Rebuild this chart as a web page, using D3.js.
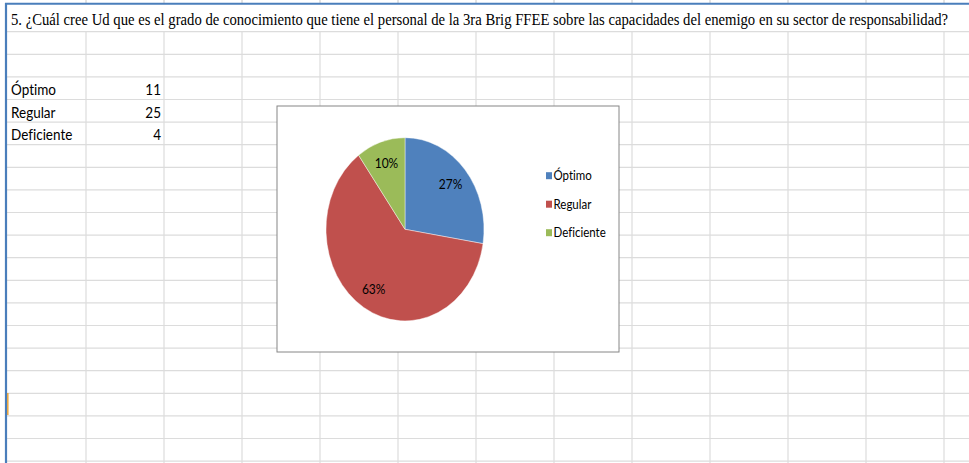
<!DOCTYPE html>
<html lang="es">
<head>
<meta charset="UTF-8">
<title>Grado de conocimiento</title>
<script src="https://cdnjs.cloudflare.com/ajax/libs/d3/7.8.5/d3.min.js"></script>
<style>
    body { margin: 0; background: #fff; }
    svg { display: block; }
    text { font-variant-ligatures: none; font-feature-settings: "liga" 0; }
</style>
</head>
<body>
<div id="onlydiv"></div>
<script>
    // Data
    var title = "5. ¿Cuál cree Ud que es el grado de conocimiento que tiene el personal de la 3ra Brig FFEE sobre las capacidades del enemigo en su sector de responsabilidad?";
    var categories = ["Óptimo", "Regular", "Deficiente"];
    var values = [11, 25, 4];
    var pctLabels = ["27%", "63%", "10%"];
    var colors = ["#4F81BD", "#C0504D", "#9BBB59"];

    // Size
    var w = 969, h = 463;
    var ky = 1.16; // the sheet screenshot is stretched vertically

    var svg = d3.select("#onlydiv").append("svg")
        .attr("width", w).attr("height", h);

    // Sheet grid
    var rowY = d3.range(20).map(function(k) { return 31.7 + 22.6 * k; });
    var colX = d3.range(12).map(function(k) { return 86 + 78 * k; });

    svg.selectAll(".hline").data(rowY).enter().append("line")
        .attr("x1", 7).attr("x2", w)
        .attr("y1", function(d) { return d; }).attr("y2", function(d) { return d; })
        .attr("stroke", "#dcdcdc").attr("stroke-width", 1.2);

    svg.selectAll(".vline").data(colX).enter().append("line")
        .attr("x1", function(d) { return d; }).attr("x2", function(d) { return d; })
        .attr("y1", 31.7).attr("y2", h)
        .attr("stroke", "#dcdcdc").attr("stroke-width", 1.2);

    svg.selectAll(".tick").data(colX).enter().append("line")
        .attr("x1", function(d) { return d; }).attr("x2", function(d) { return d; })
        .attr("y1", 0).attr("y2", 3)
        .attr("stroke", "#c8c8c8");

    // blue sheet edges
    svg.append("line").attr("x1", 5).attr("x2", w).attr("y1", 3.8).attr("y2", 3.8)
        .attr("stroke", "#4a7ebb").attr("stroke-width", 2);
    svg.append("line").attr("x1", 6).attr("x2", 6).attr("y1", 3).attr("y2", h)
        .attr("stroke", "#4a7ebb").attr("stroke-width", 2.2);
    svg.append("line").attr("x1", 7.8).attr("x2", 7.8).attr("y1", 393).attr("y2", 415)
        .attr("stroke", "#e8a33a").attr("stroke-width", 1.5);

    function stretchedText(x, y) {
        return "translate(" + x + "," + y + ") scale(1," + ky + ")";
    }

    // Title
    svg.append("text")
        .attr("transform", stretchedText(11, 25))
        .attr("font-family", "Liberation Serif, serif")
        .attr("font-size", 15)
        .attr("textLength", 937)
        .attr("lengthAdjust", "spacingAndGlyphs")
        .attr("fill", "#000")
        .text(title);

    // Table
    var rowScale = d3.scalePoint().domain(categories).range([95, 140]);

    svg.selectAll(".cat").data(categories).enter().append("text")
        .attr("transform", function(d) { return stretchedText(11, rowScale(d)); })
        .attr("font-family", "Lato, sans-serif")
        .attr("font-size", 13.5)
        .attr("fill", "#000")
        .text(function(d) { return d; });

    svg.selectAll(".val").data(values).enter().append("text")
        .attr("transform", function(d, i) { return stretchedText(161, rowScale(categories[i])); })
        .attr("text-anchor", "end")
        .attr("font-family", "Lato, sans-serif")
        .attr("font-size", 13.5)
        .attr("fill", "#000")
        .text(function(d) { return d; });

    // Chart box
    svg.append("rect")
        .attr("x", 277).attr("y", 106).attr("width", 342).attr("height", 246)
        .attr("fill", "#fff").attr("stroke", "#868686").attr("stroke-width", 1);

    // Pie
    var cx = 405, cy = 229.3, r = 79;
    var pie = d3.pie().sort(null);
    var arcs = pie(values);
    var arc = d3.arc().innerRadius(0).outerRadius(r);
    var labelArc = d3.arc().innerRadius(60).outerRadius(60);

    var pieG = svg.append("g")
        .attr("transform", "translate(" + cx + "," + cy + ") scale(1," + ky + ")");

    pieG.selectAll("path").data(arcs).enter().append("path")
        .attr("d", arc)
        .attr("fill", function(d, i) { return colors[i]; })
        .attr("stroke", "#fff")
        .attr("stroke-width", 0.4);

    svg.selectAll(".pct").data(arcs).enter().append("text")
        .attr("transform", function(d) {
            var c = labelArc.centroid(d);
            return stretchedText(cx + c[0], cy + c[1] * ky);
        })
        .attr("text-anchor", "middle")
        .attr("dy", "0.35em")
        .attr("font-family", "Lato, sans-serif")
        .attr("font-size", 12)
        .attr("fill", "#000")
        .text(function(d, i) { return pctLabels[i]; });

    // Legend
    var legScale = d3.scalePoint().domain(categories).range([175.7, 232.7]);

    var leg = svg.selectAll(".leg").data(categories).enter().append("g")
        .attr("transform", function(d) { return "translate(546," + legScale(d) + ")"; });

    leg.append("rect")
        .attr("x", 0).attr("y", -3.5).attr("width", 6).attr("height", 7)
        .attr("fill", function(d, i) { return colors[i]; });

    leg.append("text")
        .attr("transform", stretchedText(7.5, 0))
        .attr("dy", "0.35em")
        .attr("font-family", "Lato, sans-serif")
        .attr("font-size", 11.5)
        .attr("fill", "#000")
        .text(function(d) { return d; });
</script>
</body>
</html>
